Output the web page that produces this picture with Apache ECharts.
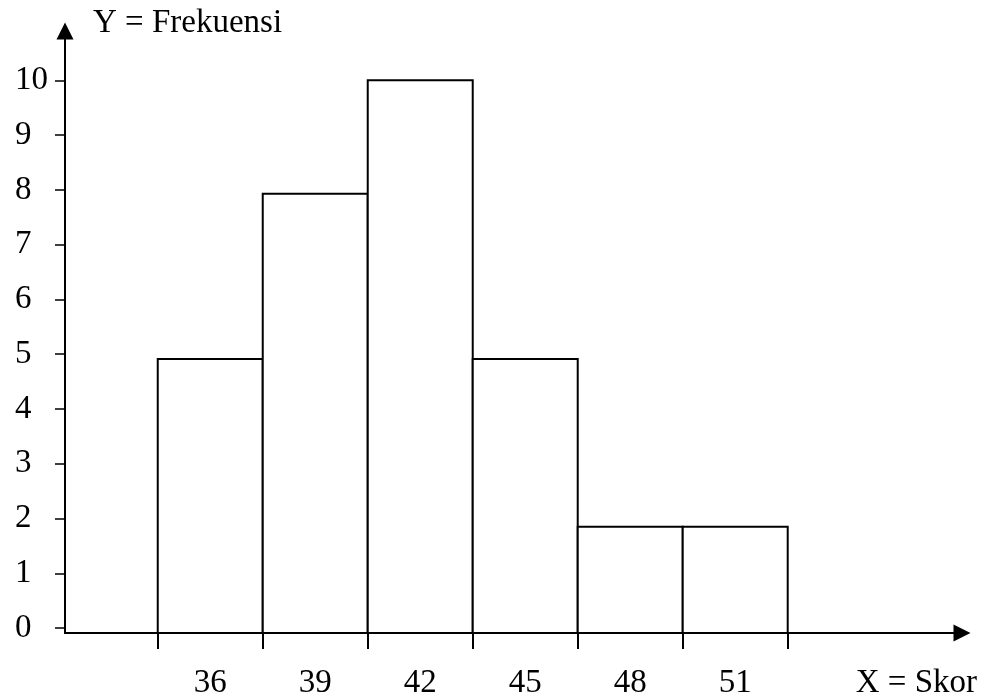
<!DOCTYPE html>
<html>
<head>
<meta charset="utf-8">
<script src="https://cdn.jsdelivr.net/npm/echarts@6/dist/echarts.min.js"></script>
<style>html,body{margin:0;padding:0;background:#fff;}#c{width:985px;height:700px;}</style>
</head>
<body>
<div id="c"></div>
<script>
const categories = [36, 39, 42, 45, 48, 51];
const frequencies = [4.91, 7.93, 10.0, 4.91, 1.85, 1.85];
const binWidth = 3;
const yTicks = [0, 1, 2, 3, 4, 5, 6, 7, 8, 9, 10];
const xEdges = [34.5, 37.5, 40.5, 43.5, 46.5, 49.5, 52.5];

const Y_MIN = -0.09;
const FONT = '"Liberation Serif", "DejaVu Serif", serif';
const FS = 33;

const chart = echarts.init(document.getElementById('c'));
const data = categories.map((c, i) => [c - binWidth / 2, c + binWidth / 2, frequencies[i]]);

chart.setOption({
  animation: false,
  backgroundColor: '#fff',
  grid: { left: 65, right: 23, top: 31, bottom: 63, containLabel: false },
  xAxis: {
    type: 'value',
    min: 31.85,
    max: 57.48,
    name: 'X = Skor',
    nameLocation: 'end',
    nameGap: 15,
    nameTextStyle: { fontFamily: FONT, fontSize: FS, color: '#000', align: 'right', verticalAlign: 'top', padding: [34, 0, 0, 0] },
    splitLine: { show: false },
    axisLine: { show: true, onZero: false, symbol: ['none', 'triangle'], symbolSize: [17, 17], lineStyle: { color: '#000', width: 2 } },
    axisTick: { show: true, customValues: xEdges, length: 16, lineStyle: { color: '#000', width: 2 } },
    axisLabel: { customValues: categories, margin: 34, fontFamily: FONT, fontSize: FS, color: '#000' }
  },
  yAxis: {
    type: 'value',
    min: Y_MIN,
    max: 10.9,
    name: 'Y = Frekuensi',
    nameLocation: 'end',
    nameGap: 8,
    nameTextStyle: { fontFamily: FONT, fontSize: FS, color: '#000', align: 'left', verticalAlign: 'middle', padding: [0, 0, 0, 28], lineHeight: FS },
    splitLine: { show: false },
    axisLine: { show: true, symbol: ['none', 'triangle'], symbolSize: [17, 17], lineStyle: { color: '#000', width: 2 } },
    axisTick: { show: true, customValues: yTicks, length: 10, lineStyle: { color: '#000', width: 1.5 } },
    axisLabel: { customValues: yTicks, margin: 50, align: 'left', fontFamily: FONT, fontSize: FS, color: '#000' }
  },
  series: [{
    type: 'custom',
    data: data,
    encode: { x: [0, 1], y: 2 },
    clip: false,
    renderItem: function (params, api) {
      const p0 = api.coord([api.value(0), Y_MIN]);
      const p1 = api.coord([api.value(1), api.value(2)]);
      return {
        type: 'rect',
        shape: { x: p0[0], y: p1[1], width: p1[0] - p0[0], height: p0[1] - p1[1] },
        style: { fill: '#fff', stroke: '#000', lineWidth: 2 }
      };
    }
  }]
});
</script>
</body>
</html>
